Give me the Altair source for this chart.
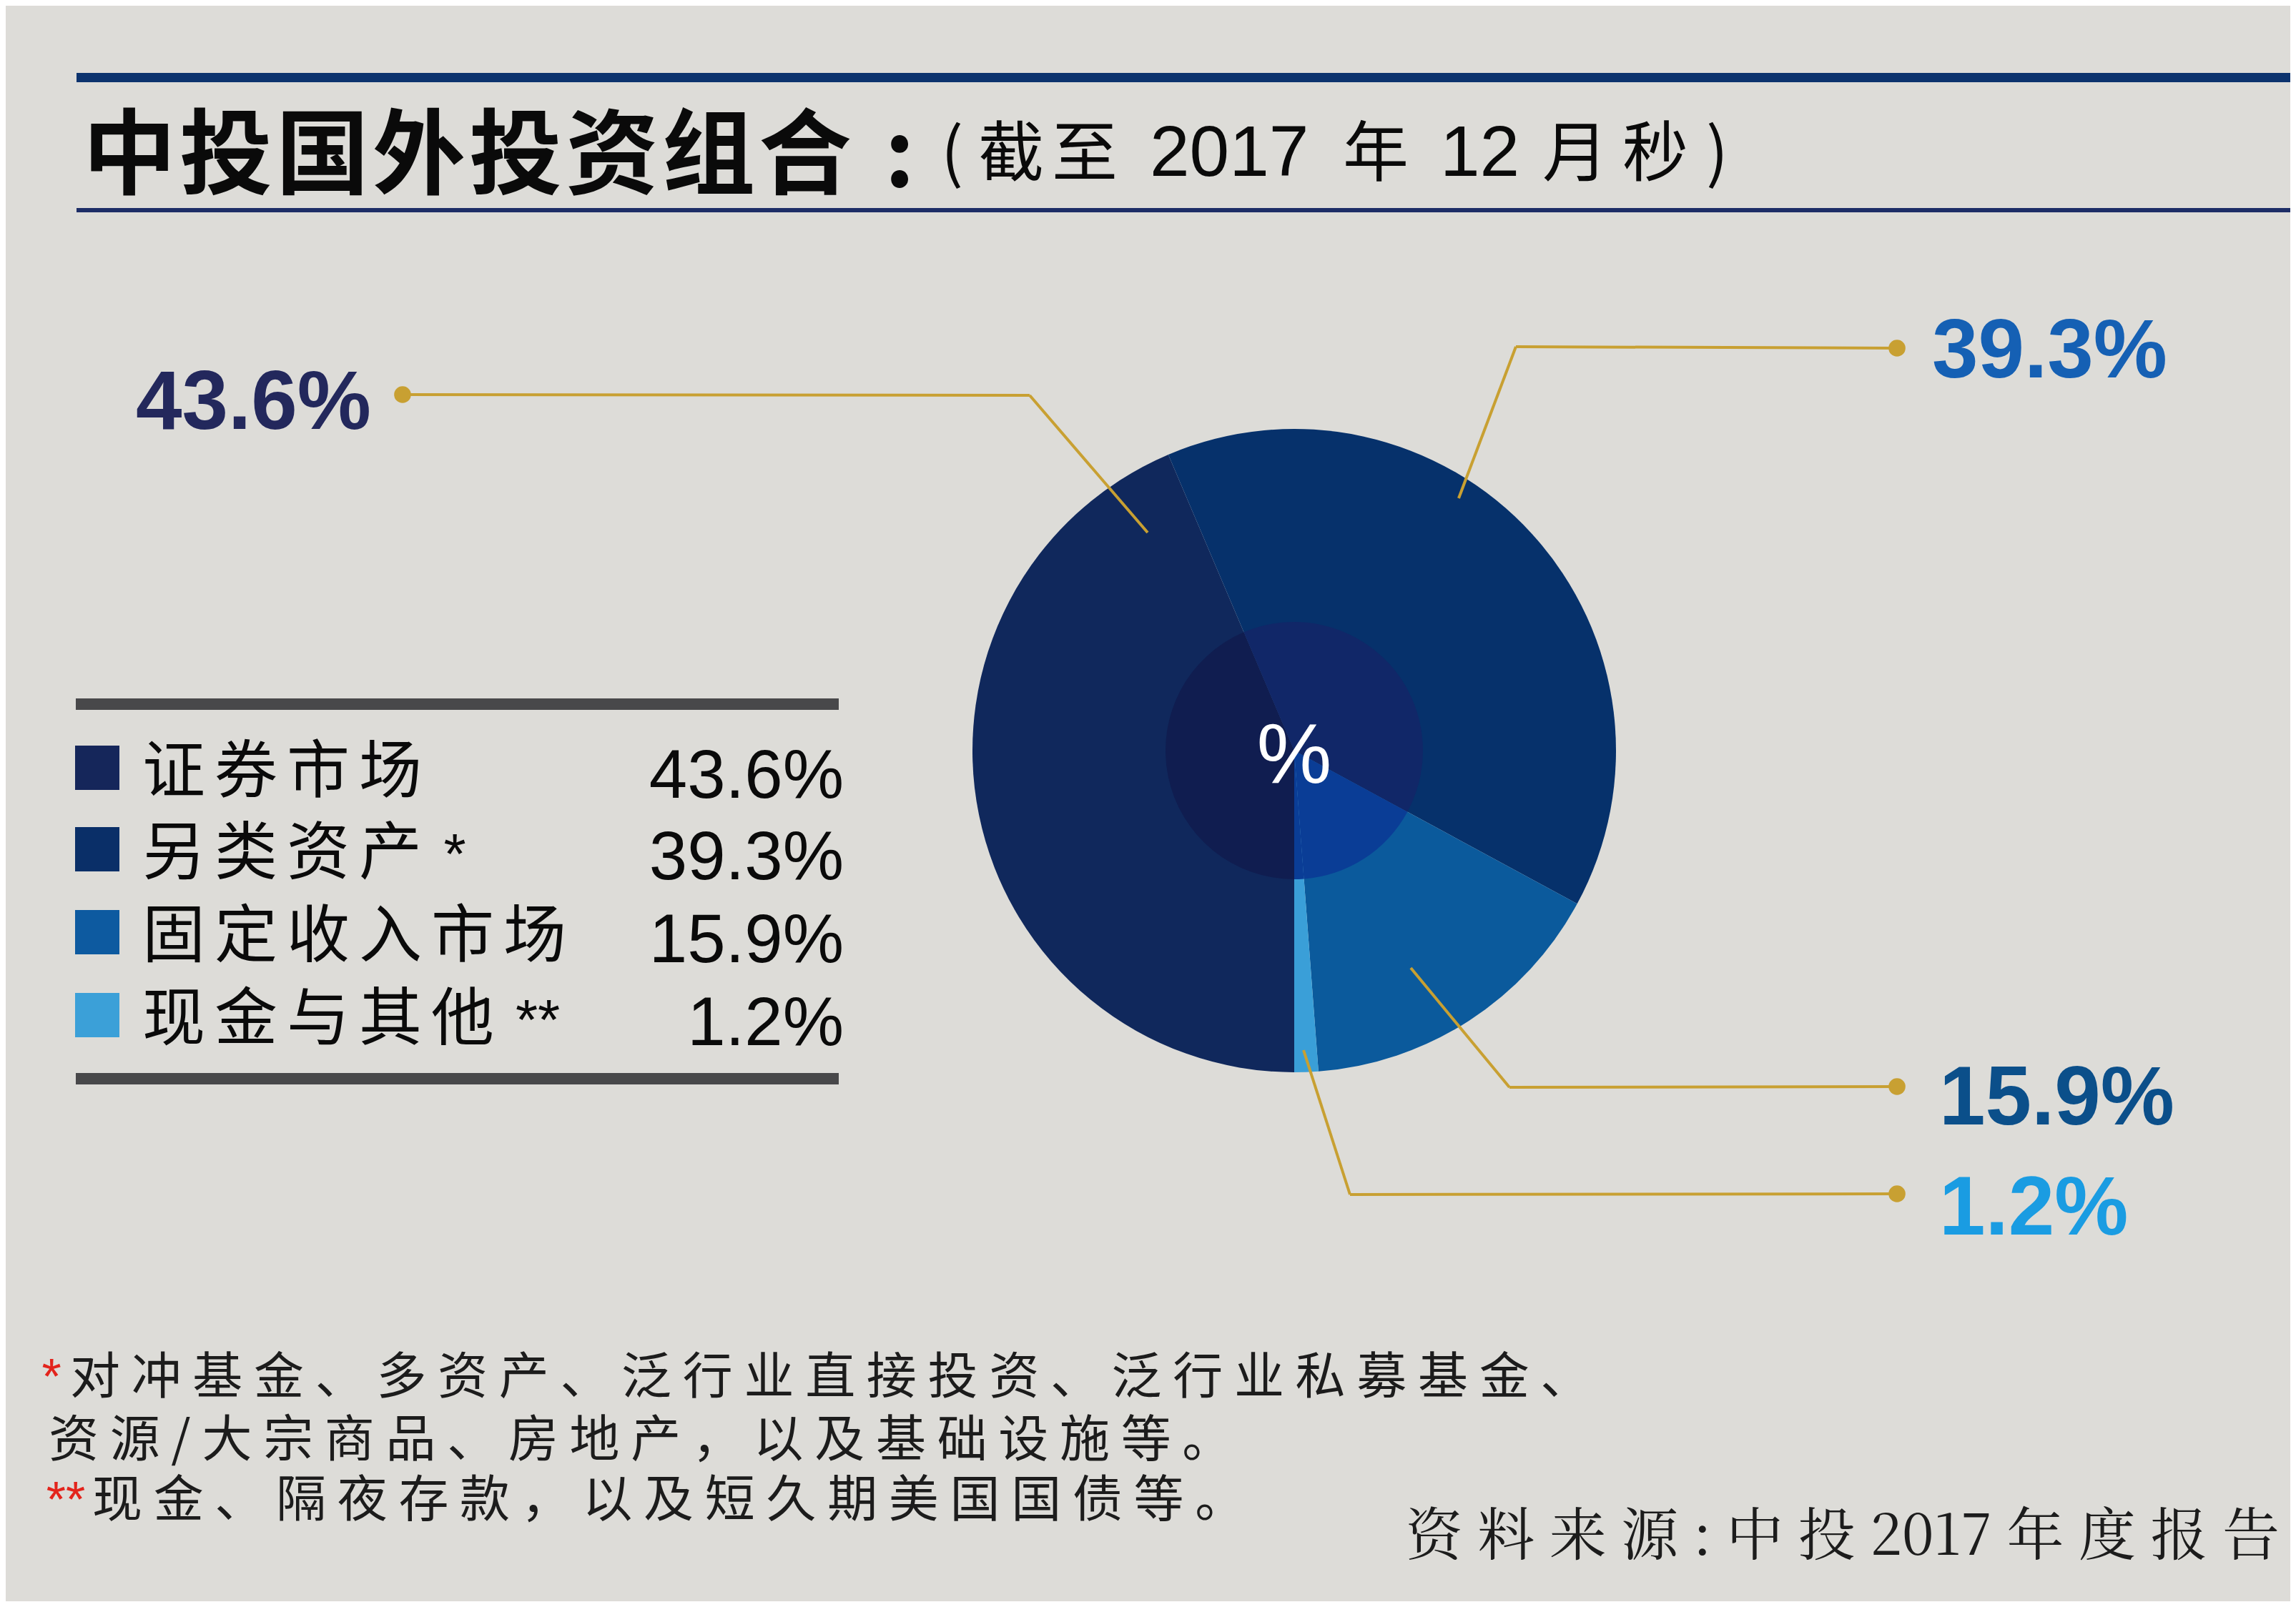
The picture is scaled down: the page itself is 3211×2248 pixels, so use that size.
import math
import re
import altair as alt
import pandas as pd

# ---------------- data ----------------
categories = ["证券市场", "另类资产", "固定收入市场", "现金与其他"]
shares = [43.6, 39.3, 15.9, 1.2]
legend_marks = ["", "*", "", "**"]
title_main = "中投国外投资组合"
title_sub_tokens = ["(", "截", "至", "2017", "年", "12", "月", "秒", ")"]
center_label = "%"
footnote_lines = [
    "对冲基金、多资产、泛行业直接投资、泛行业私募基金、",
    "资源/大宗商品、房地产，以及基础设施等。",
    "现金、隔夜存款，以及短久期美国国债等。",
]
footnote_marks = ["*", "", "**"]
source_text = "资料来源:中投2017年度报告"

# ---------------- style / layout ----------------
slice_colors = ["#10285c", "#06316b", "#0b5a9c", "#3a9fd8"]
inner_colors = ["#101d50", "#112768", "#0a3d96", "#0a3d96"]
legend_colors = ["#15265a", "#0a2f68", "#0d5aa0", "#3ba0d8"]
label_colors = ["#23285c", "#1560b4", "#0b4f8a", "#1a9ce2"]
GOLD = "#c8a032"
BG = "#dddcd8"
CJK = "Noto Sans CJK SC"
LAT = "Liberation Sans"

W, H = 3195, 2232
CX, CY = 1802, 1042
R_OUT, R_IN = 450, 180

# pie label layout: text x, baseline, leader dot, corner, end (chart px)
label_pos = [
    (182, 592, (555, 544), (1432, 545), (1597, 737)),
    (2694, 520, (2645, 479), (2112, 477), (2032, 689)),
    (2704, 1565, (2645, 1512), (2103, 1513), (1965, 1346)),
    (2704, 1719, (2645, 1662), (1880, 1663), (1815, 1461)),
]
title_x0, title_pitch, title_base = 173, 135, 253
sub_x = [1308, 1360, 1463, 1600, 1870, 2006, 2149, 2261, 2378]
sub_base = 238
leg_x0, leg_pitch = 235, 101
leg_base = [1100, 1214, 1330, 1446]
leg_sq_x, leg_sq_y = 128, [1066, 1180, 1296, 1412]
leg_mark_x = [None, 628, None, 744]
leg_val_x = 1172
foot_x = [90, 60, 121]
foot_mark_x = [64, None, 84]
foot_base = [1942, 2030, 2114]

xs = alt.Scale(domain=[0, W], nice=False, zero=False)
ys = alt.Scale(domain=[0, H], nice=False, zero=False, reverse=True)


def X(f="x"):
    return alt.X(f"{f}:Q", scale=xs, axis=None)


def Y(f="y"):
    return alt.Y(f"{f}:Q", scale=ys, axis=None)


def rule_chart(rows):
    return alt.Chart(pd.DataFrame(rows)).mark_rule().encode(
        x=X(), y=Y(), x2=alt.X2("x2:Q"), y2=alt.Y2("y2:Q"),
        color=alt.Color("c:N", scale=None),
        strokeWidth=alt.StrokeWidth("w:Q", scale=None),
    )


# ---------------- decorative bars ----------------
bars = [
    dict(x=99, y=100.5, x2=W, y2=100.5, c="#0c336e", w=13),
    dict(x=99, y=286, x2=W, y2=286, c="#1d2d66", w=6),
    dict(x=98, y=977, x2=1165, y2=977, c="#48484a", w=16),
    dict(x=98, y=1501, x2=1165, y2=1501, c="#48484a", w=16),
]
leaders = []
for (_, _, dot, corner, end) in label_pos:
    leaders.append(dict(x=dot[0], y=dot[1], x2=corner[0], y2=corner[1], c=GOLD, w=4))
    leaders.append(dict(x=corner[0], y=corner[1], x2=end[0], y2=end[1], c=GOLD, w=4))

pie_df = pd.DataFrame({
    "cat": categories,
    "value": shares,
    "order": list(range(len(categories))),
    "c": slice_colors,
    "ci": inner_colors,
})

theta = alt.Theta("value:Q", stack=True, scale=alt.Scale(range=[math.pi, 3 * math.pi]))

outer = alt.Chart(pie_df).mark_arc(radius=R_OUT).encode(
    theta=theta, order=alt.Order("order:Q"),
    color=alt.Color("c:N", scale=None),
    x=alt.value(CX), y=alt.value(CY),
)
inner = alt.Chart(pie_df).mark_arc(radius=R_IN).encode(
    theta=theta, order=alt.Order("order:Q"),
    color=alt.Color("ci:N", scale=None),
    x=alt.value(CX), y=alt.value(CY),
)

dots_df = pd.DataFrame([dict(x=p[2][0], y=p[2][1]) for p in label_pos])
dots = alt.Chart(dots_df).mark_circle(size=560, opacity=1, color=GOLD).encode(x=X(), y=Y())

# pie labels
pl_df = pd.DataFrame({
    "x": [p[0] for p in label_pos],
    "y": [p[1] for p in label_pos],
    "t": [f"{v}%" for v in shares],
    "c": label_colors,
})
pie_labels = alt.Chart(pl_df).mark_text(
    align="left", baseline="alphabetic", font=LAT, fontSize=116, fontWeight="bold"
).encode(x=X(), y=Y(), text="t:N", color=alt.Color("c:N", scale=None))

center_df = pd.DataFrame({"x": [CX], "y": [1087], "t": [center_label]})
center_txt = alt.Chart(center_df).mark_text(
    align="center", baseline="alphabetic", font=LAT, fontSize=118, color="white"
).encode(x=X(), y=Y(), text="t:N")

# title
tchars = [dict(x=title_x0 + i * title_pitch, y=title_base, t=ch) for i, ch in enumerate(title_main)]
tchars.append(dict(x=title_x0 + len(title_main) * title_pitch - 3, y=title_base, t=":"))
title_layer = alt.Chart(pd.DataFrame(tchars)).mark_text(
    align="center", baseline="alphabetic", font=CJK, fontSize=130, fontWeight="bold", color="#0a0a0a"
).encode(x=X(), y=Y(), text="t:N")

is_num = [tok.isdigit() for tok in title_sub_tokens]
sub_df = pd.DataFrame({"x": sub_x, "y": [sub_base] * len(sub_x), "t": title_sub_tokens, "num": is_num})
sub_cjk = alt.Chart(sub_df[~sub_df["num"]]).mark_text(
    align="left", baseline="alphabetic", font=CJK, fontSize=92, color="#0a0a0a"
).encode(x=X(), y=Y(), text="t:N")
sub_num = alt.Chart(sub_df[sub_df["num"]]).mark_text(
    align="left", baseline="alphabetic", font=LAT, fontSize=100, color="#0a0a0a"
).encode(x=X(), y=Y(), text="t:N")

# legend
lchars = []
for r, name in enumerate(categories):
    for i, ch in enumerate(name):
        lchars.append(dict(x=leg_x0 + i * leg_pitch, y=leg_base[r], t=ch))
leg_labels = alt.Chart(pd.DataFrame(lchars)).mark_text(
    align="center", baseline="alphabetic", font=CJK, fontSize=88, color="#0a0a0a"
).encode(x=X(), y=Y(), text="t:N")

lm = [dict(x=leg_mark_x[r], y=leg_base[r], t=m) for r, m in enumerate(legend_marks) if m]
leg_marks = alt.Chart(pd.DataFrame(lm)).mark_text(
    align="center", baseline="alphabetic", font=LAT, fontSize=80, color="#0a0a0a"
).encode(x=X(), y=Y(), text="t:N")

sq_df = pd.DataFrame({"x": [leg_sq_x] * 4, "y": leg_sq_y, "c": legend_colors})
leg_sq = alt.Chart(sq_df).mark_square(size=62 * 62, opacity=1).encode(
    x=X(), y=Y(), color=alt.Color("c:N", scale=None)
)

lv_df = pd.DataFrame({"x": [leg_val_x] * 4, "y": [b + 8 for b in leg_base],
                      "t": [f"{v}%" for v in shares]})
leg_vals = alt.Chart(lv_df).mark_text(
    align="right", baseline="alphabetic", font=LAT, fontSize=96, color="#0a0a0a"
).encode(x=X(), y=Y(), text="t:N")


# footnotes
def spaced(s):
    return " ".join(re.findall(r"\d+|.", s))


fn_df = pd.DataFrame({"x": foot_x, "y": foot_base, "t": [spaced(s) for s in footnote_lines]})
foot_layer = alt.Chart(fn_df).mark_text(
    align="left", baseline="alphabetic", font=CJK, fontSize=70, color="#1c1c1c"
).encode(x=X(), y=Y(), text="t:N")

fm = [dict(x=foot_mark_x[i], y=foot_base[i], t=m) for i, m in enumerate(footnote_marks) if m]
foot_marks = alt.Chart(pd.DataFrame(fm)).mark_text(
    align="center", baseline="alphabetic", font=LAT, fontSize=70, color="#e3241c"
).encode(x=X(), y=Y(), text="t:N")

src_df = pd.DataFrame({"x": [3180], "y": [2167], "t": [spaced(source_text)]})
src_layer = alt.Chart(src_df).mark_text(
    align="right", baseline="alphabetic", font="Noto Serif CJK SC, Noto Sans CJK SC", fontSize=80,
    color="#1c1c1c"
).encode(x=X(), y=Y(), text="t:N")

chart = alt.layer(
    rule_chart(bars), outer, inner, rule_chart(leaders), dots,
    pie_labels, center_txt, title_layer, sub_cjk, sub_num,
    leg_sq, leg_labels, leg_marks, leg_vals,
    foot_layer, foot_marks, src_layer,
).properties(
    width=W, height=H, background=BG, padding=0,
    autosize=alt.AutoSizeParams(type="none"),
).configure_view(stroke=None)

chart.save("out.html", embed_options={"renderer": "svg", "actions": False})
